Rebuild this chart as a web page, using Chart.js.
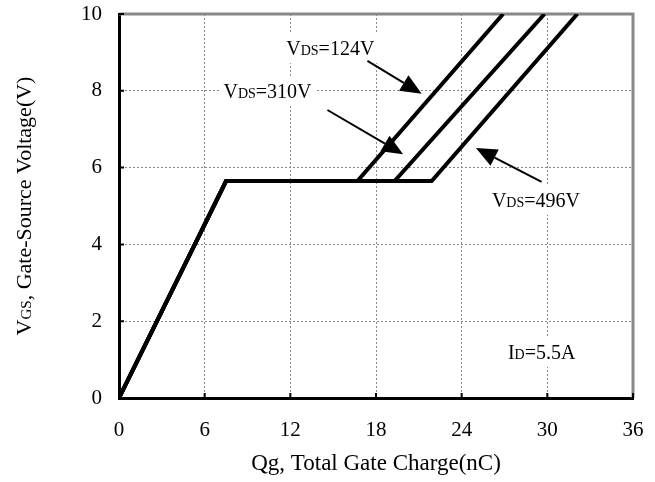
<!DOCTYPE html>
<html>
<head>
<meta charset="utf-8">
<script src="https://cdn.jsdelivr.net/npm/chart.js@4.4.1/dist/chart.umd.min.js"></script>
<style>
  html, body { margin: 0; padding: 0; background: #fff; }
  #wrap { width: 655px; height: 482px; }
</style>
</head>
<body>
<div id="wrap"><canvas id="c"></canvas></div>
<script>
// Gate charge curves (Qg in nC, VGS in V)
const qg124 = [0, 7.5, 16.7, 26.9];
const vgs124 = [0, 5.65, 5.65, 10];
const qg310 = [0, 7.5, 19.3, 29.8];
const vgs310 = [0, 5.65, 5.65, 10];
const qg496 = [0, 7.5, 21.9, 32.1];
const vgs496 = [0, 5.65, 5.65, 10];

const xTicks = [0, 6, 12, 18, 24, 30, 36];
const yTicks = [0, 2, 4, 6, 8, 10];

// labels: [big, small, big] text pieces, anchor in data units, arrow from/to in data units
const labelParts = [
  ['V', 'DS', '=124V'],
  ['V', 'DS', '=310V'],
  ['V', 'DS', '=496V'],
  ['I', 'D', '=5.5A']
];
const labelAt = [[14.8, 9.11], [10.4, 8.0], [29.2, 5.16], [29.6, 1.2]];
const arrowFrom = [[17.4, 8.78], [14.6, 7.5], [29.6, 5.63], null];
const arrowTo = [[21.2, 7.92], [19.9, 6.35], [25.0, 6.51], null];

const FONT = "'Liberation Serif', 'DejaVu Serif', serif";
const BIG = 20;
const SMALL = 14;
const TICK = 21;
const TITLE = 23;

function toPoints(xs, ys) {
  return xs.map((x, i) => ({ x, y: ys[i] }));
}

function drawParts(ctx, parts, cx, cy, big, small, withBg) {
  const sizes = parts.map((p, i) => (i === 1 ? small : big));
  let total = 0;
  const widths = parts.map((p, i) => {
    ctx.font = sizes[i] + 'px ' + FONT;
    const w = ctx.measureText(p).width;
    total += w;
    return w;
  });
  let x = cx - total / 2;
  const base = cy + big * 0.34;
  if (withBg) {
    ctx.fillStyle = '#fff';
    ctx.fillRect(x - 4, cy - big * 0.75, total + 8, big * 1.5);
  }
  ctx.fillStyle = '#000';
  ctx.textBaseline = 'alphabetic';
  ctx.textAlign = 'left';
  parts.forEach((p, i) => {
    ctx.font = sizes[i] + 'px ' + FONT;
    ctx.fillText(p, x, base);
    x += widths[i];
  });
}

function drawArrow(ctx, x1, y1, x2, y2) {
  const ang = Math.atan2(y2 - y1, x2 - x1);
  const len = 21, half = 9;
  const bx = x2 - len * Math.cos(ang), by = y2 - len * Math.sin(ang);
  ctx.strokeStyle = '#000';
  ctx.lineWidth = 2;
  ctx.beginPath();
  ctx.moveTo(x1, y1);
  ctx.lineTo(bx, by);
  ctx.stroke();
  ctx.fillStyle = '#000';
  ctx.beginPath();
  ctx.moveTo(x2, y2);
  ctx.lineTo(bx + half * Math.sin(ang), by - half * Math.cos(ang));
  ctx.lineTo(bx - half * Math.sin(ang), by + half * Math.cos(ang));
  ctx.closePath();
  ctx.fill();
}

const decorPlugin = {
  id: 'decor',
  beforeDatasetsDraw(chart) {
    const { ctx, chartArea: a, scales: { x, y } } = chart;
    ctx.save();
    // gray top and right frame
    ctx.strokeStyle = '#888';
    ctx.lineWidth = 3;
    ctx.beginPath();
    ctx.moveTo(a.left, a.top);
    ctx.lineTo(a.right, a.top);
    ctx.lineTo(a.right, a.bottom);
    ctx.stroke();
    // inward tick marks
    ctx.strokeStyle = '#000';
    ctx.lineWidth = 2;
    ctx.beginPath();
    xTicks.forEach(v => {
      const px = x.getPixelForValue(v);
      ctx.moveTo(px, a.bottom);
      ctx.lineTo(px, a.bottom - 5);
    });
    yTicks.forEach(v => {
      const py = y.getPixelForValue(v);
      ctx.moveTo(a.left, py);
      ctx.lineTo(a.left + 5, py);
    });
    ctx.stroke();
    // labels and arrows
    labelParts.forEach((parts, i) => {
      const cx = x.getPixelForValue(labelAt[i][0]);
      const cy = y.getPixelForValue(labelAt[i][1]);
      drawParts(ctx, parts, cx, cy, BIG, SMALL, true);
      if (arrowFrom[i]) {
        drawArrow(ctx,
          x.getPixelForValue(arrowFrom[i][0]), y.getPixelForValue(arrowFrom[i][1]),
          x.getPixelForValue(arrowTo[i][0]), y.getPixelForValue(arrowTo[i][1]));
      }
    });
    // y axis title
    ctx.translate(24, (a.top + a.bottom) / 2);
    ctx.rotate(-Math.PI / 2);
    drawParts(ctx, ['V', 'GS', ', Gate-Source Voltage(V)'], 0, 0, 22, 15, false);
    ctx.restore();
  }
};

const lineStyle = {
  showLine: true,
  borderColor: '#000',
  backgroundColor: '#000',
  borderWidth: 4,
  pointRadius: 0,
  tension: 0,
  fill: false
};

new Chart(document.getElementById('c'), {
  type: 'scatter',
  data: {
    datasets: [
      { label: 'VDS=124V', data: toPoints(qg124, vgs124), ...lineStyle },
      { label: 'VDS=310V', data: toPoints(qg310, vgs310), ...lineStyle },
      { label: 'VDS=496V', data: toPoints(qg496, vgs496), ...lineStyle }
    ]
  },
  options: {
    responsive: true,
    maintainAspectRatio: false,
    animation: false,
    layout: { padding: { top: 14, right: 22, left: 0, bottom: 0 } },
    plugins: {
      legend: { display: false },
      tooltip: { enabled: false }
    },
    scales: {
      x: {
        type: 'linear',
        min: 0,
        max: 36,
        afterFit: s => {
          s.height = 84;
          s.paddingLeft = 0;
          s.paddingRight = 0;
        },
        afterBuildTicks: s => { s.ticks = xTicks.map(v => ({ value: v })); },
        ticks: { color: '#000', font: { family: FONT, size: TICK }, padding: 20, maxRotation: 0 },
        grid: { color: '#888', lineWidth: 1, drawTicks: false },
        border: { color: '#000', width: 3, dash: [2, 2] },
        title: {
          display: true,
          text: 'Qg, Total Gate Charge(nC)',
          color: '#000',
          font: { family: FONT, size: TITLE },
          padding: { top: 1 }
        }
      },
      y: {
        type: 'linear',
        min: 0,
        max: 10,
        afterFit: s => {
          s.width = 119;
          s.paddingTop = 0;
          s.paddingBottom = 0;
        },
        afterBuildTicks: s => { s.ticks = yTicks.map(v => ({ value: v })); },
        ticks: { color: '#000', font: { family: FONT, size: TICK }, padding: 17 },
        grid: { color: '#888', lineWidth: 1, drawTicks: false },
        border: { color: '#000', width: 3, dash: [2, 2] }
      }
    }
  },
  plugins: [decorPlugin]
});
</script>
</body>
</html>
